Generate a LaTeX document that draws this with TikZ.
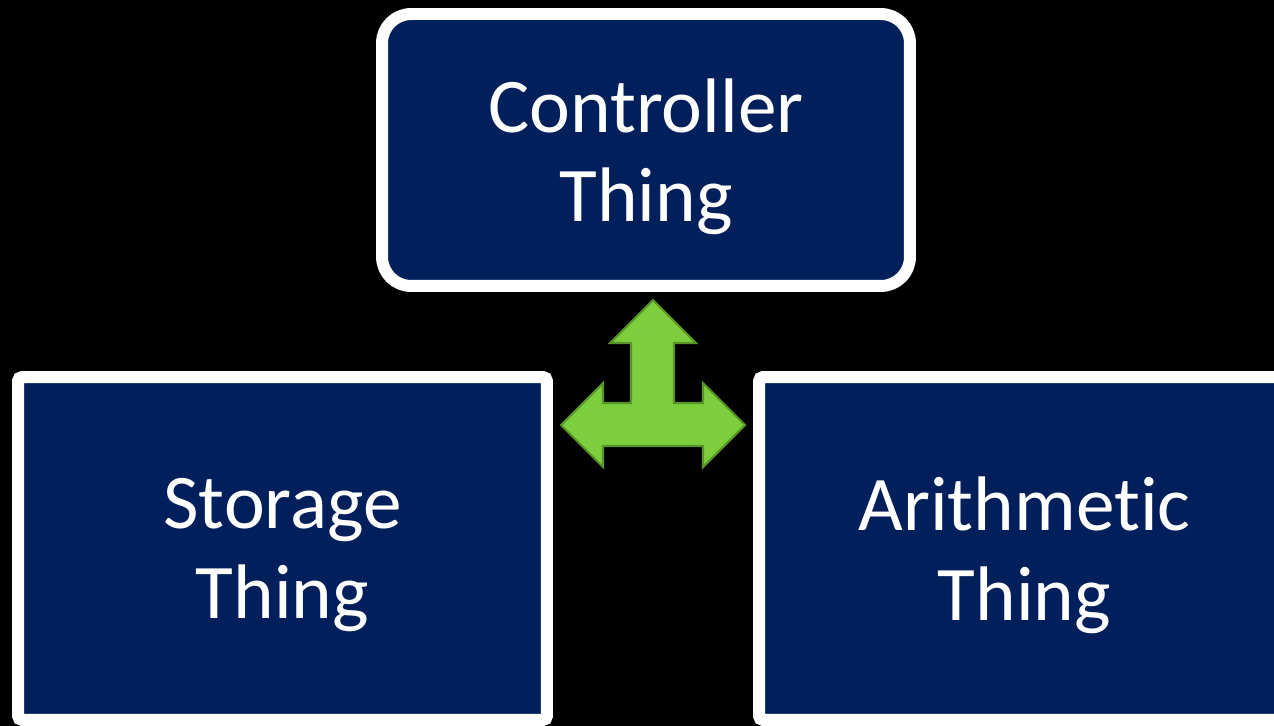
\documentclass[tikz,border=0pt]{standalone}
\usepackage{fontspec}
\setmainfont{Carlito}[Ligatures={NoCommon}]
\usepackage{tikz}
\usepackage{xcolor}
\definecolor{boxblue}{RGB}{0,31,91}
\definecolor{arrowgreen}{RGB}{125,206,60}
\definecolor{arrowedge}{RGB}{88,148,40}

\begin{document}
\begin{tikzpicture}[x = 0.02cm, y = -0.02cm,
    thing/.style = {draw=white, fill=boxblue, line width=6.8pt, text=white,
        align=center, inner sep=0pt, text depth=0pt,
        font=\fontsize{44}{51}\selectfont}]
\fill[black] (0, 0) rectangle (1274, 726);
\clip (0, 0) rectangle (1274, 726);

    \node[thing, rounded corners=0.58cm, minimum width=10.56cm, minimum height=5.44cm]
        (controller) at (646, 150) {Controller\\Thing};
    \node[thing, rounded corners=0.08cm, minimum width=10.58cm, minimum height=6.86cm]
        (storage) at (282.5, 548.5) {Storage\\Thing};
    \node[thing, rounded corners=0.08cm, minimum width=10.62cm, minimum height=6.86cm]
        (arithmetic) at (1024.5, 548.5) {Arithmetic\\Thing};

    % three way arrow
    \draw[fill=arrowgreen, draw=arrowedge, line width=1.2pt]
        (653, 300) -- (696, 343) -- (674, 343) -- (674, 403) -- (703, 403)
        -- (703, 383) -- (745, 425) -- (703, 467) -- (703, 446) -- (603, 446)
        -- (603, 467) -- (561, 425) -- (603, 383) -- (603, 403) -- (631, 403)
        -- (631, 343) -- (610, 343) -- cycle;

\end{tikzpicture}
\end{document}
